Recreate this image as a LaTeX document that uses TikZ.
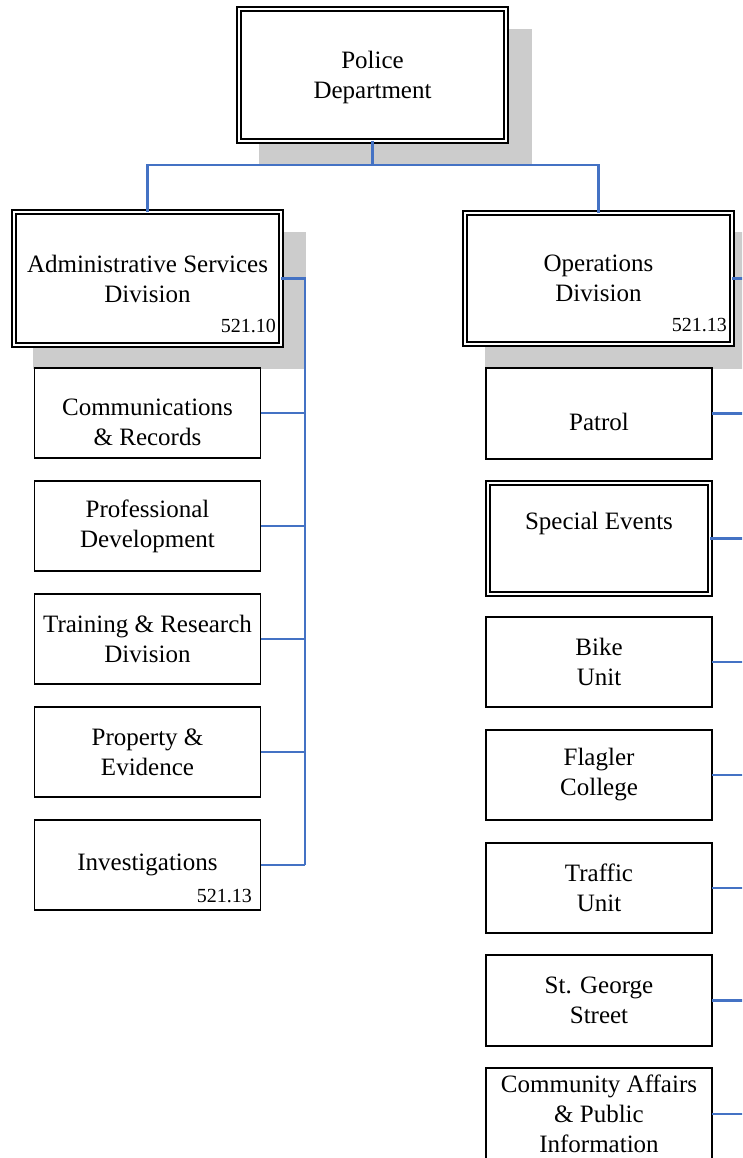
\documentclass[tikz,border=0pt]{standalone}
\usepackage{fontspec}
\setmainfont{Liberation Serif}
\definecolor{linkblue}{RGB}{68,114,196}
\definecolor{shadowgray}{RGB}{204,204,204}
\begin{document}
\begin{tikzpicture}[x=1pt,y=-1pt,
  box/.style={draw, line width=1.8pt, fill=white, minimum width=226pt, minimum height=90pt, inner sep=0pt, outer sep=0pt},
  dbox/.style={draw, line width=1.4pt, double, double distance=2.4pt, fill=white, inner sep=0pt, outer sep=0pt},
  txt/.style={font=\fontsize{25}{30}\selectfont, align=center, inner sep=0pt},
  code/.style={font=\fontsize{20}{24}\selectfont, inner sep=0pt, anchor=base east},
  link/.style={draw=linkblue, line width=2.1pt},
  shade/.style={fill=shadowgray}]
\clip (0,0) rectangle (742,1158);
\fill[white] (0,0) rectangle (742,1158);
% shadows
\fill[shade] (259,29) rectangle (532,165);
\fill[shade] (33,232) rectangle (306,369);
\fill[shade] (485,232) rectangle (760,369);
% main boxes
\node[dbox, minimum width=267pt, minimum height=132pt] (pd) at (372.5,75) {};
\node[dbox, minimum width=267pt, minimum height=133pt] (asd) at (147.5,278.5) {};
\node[dbox, minimum width=267pt, minimum height=131pt] (ops) at (598.5,278.5) {};
% left children
\node[box] (com) at (147.5,413) {};
\node[box] (prof) at (147.5,526) {};
\node[box] (train) at (147.5,639) {};
\node[box] (prop) at (147.5,752) {};
\node[box] (inv) at (147.5,865) {};
% right children
\node[box, minimum height=91pt] (patrol) at (599,413.5) {};
\node[dbox, minimum width=222pt, minimum height=111pt] (special) at (599,538.5) {};
\node[box] (bike) at (599,662) {};
\node[box] (flagler) at (599,775) {};
\node[box] (traffic) at (599,888) {};
\node[box, minimum height=91pt] (george) at (599,1000.5) {};
\node[box, minimum height=92pt] (comm) at (599,1114) {};
% texts
\node[txt] (pd-t) at ([shift={(0,2)}]pd.center) {Police\\Department};
\node[txt] (asd-t) at (asd.center) {Administrative Services\\Division};
\node[code] (asd-c) at (276,332) {521.10};
\node[txt] (ops-t) at (ops.center) {Operations\\Division};
\node[code] (ops-c) at (727,331) {521.13};
\node[txt] (com-t) at ([shift={(0,9)}]com.center) {Communications\\\&\ Records};
\node[txt] (prof-t) at (prof.center) {Professional\\Development};
\node[txt] (train-t) at (train.center) {Training \& Research\\Division};
\node[txt] (prop-t) at (prop.center) {Property \&\\Evidence};
\node[txt] (inv-t) at (inv.center) {Investigations};
\node[code] (inv-c) at (252,902) {521.13};
\node[txt] (patrol-t) at ([shift={(0,8)}]patrol.center) {Patrol};
\node[txt] (special-t) at ([shift={(0,-15)}]special.center) {Special Events};
\node[txt] (bike-t) at (bike.center) {Bike\\Unit};
\node[txt] (flagler-t) at (flagler.center) {Flagler\\College};
\node[txt] (traffic-t) at (traffic.center) {Traffic\\Unit};
\node[txt] (george-t) at (george.center) {St. George\\Street};
\node[txt] (comm-t) at (comm.center) {Community Affairs\\\&\ Public\\Information};
% connectors
\coordinate (ls) at (305,0);
\coordinate (rs) at (757,0);
\draw[link] (pd.south) -- ([shift={(0,24)}]pd.south) coordinate (bus);
\draw[link] (asd.north) |- (bus) -| (ops.north);
\draw[link] (asd.east) -| (inv.east -| ls);
\foreach \n in {com,prof,train,prop,inv} \draw[link] (\n.east) -- (\n.east -| ls);
\draw[link] (ops.east) -| (comm.east -| rs);
\foreach \n in {patrol,special,bike,flagler,traffic,george,comm} \draw[link] (\n.east) -- (\n.east -| rs);
\end{tikzpicture}
\end{document}
